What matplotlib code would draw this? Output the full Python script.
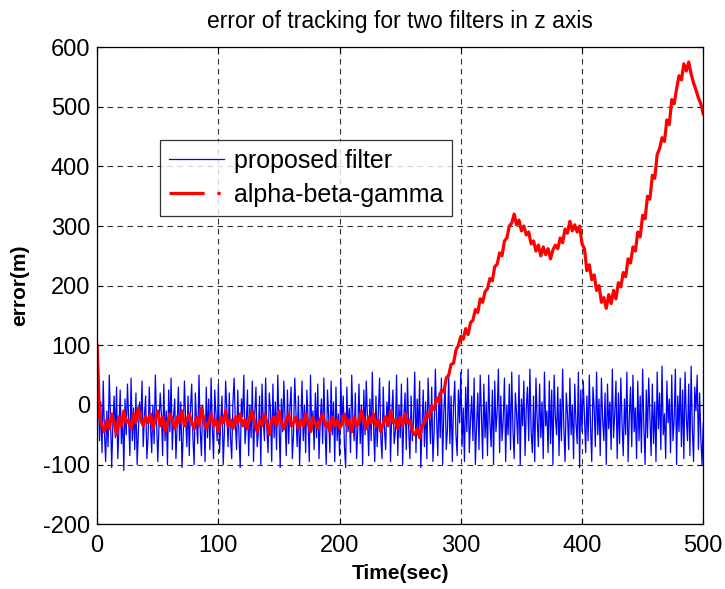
import numpy as np
import matplotlib
matplotlib.use("Agg")
import matplotlib.pyplot as plt
from matplotlib.lines import Line2D

plt.rcParams["font.family"] = ["Liberation Sans", "DejaVu Sans"]
plt.rcParams["axes.unicode_minus"] = False

# proposed filter error, one sample per second (t = 0..500)
proposed_err = [
    -35, 20, -60, 5, -80, 40, -45, -95, -10, -70, 50, -20, -105, -30, 15, -55, 30, -90, -40, 25,
    -65, -15, -110, 10, -50, 35, -25, -85, 45, -60, -5, -75, 20, -100, -45, 5, -30, 40, -70, -20,
    15, -90, -55, 30, -35, -80, 0, -65, 50, -25, -95, -40, 20, -15, -85, 35, -60, -10, -100, 25,
    -45, 45, -75, -20, 10, -90, -35, 30, -60, 5, -105, -50, 40, -25, -70, 15, -85, -5, 35, -55,
    -100, 20, -30, -65, 50, -40, -85, 0, -20, -95, 30, -55, 10, -75, 45, -35, -90, 25, -15, -60,
    35, -80, -25, 15, -100, -45, 40, -10, -70, 20, -55, -90, 5, 45, -30, -75, 25, -50, -105, 10,
    -20, 50, -65, -35, 25, -85, 0, -55, 40, -95, -15, 30, -70, -45, 15, -100, 35, -25, -60, 45,
    -40, -80, 20, -10, -95, 35, -55, 5, -75, 50, -30, -105, 10, -45, 40, -20, -85, 25, -65, -5,
    30, -90, -50, 45, -15, -70, 15, -100, -35, 40, -60, 0, -80, 25, -25, -95, 50, -45, -10, -75,
    20, -55, 35, -90, -30, 10, -65, 45, -40, -100, 25, -20, -80, 40, -50, 5, -95, 30, -60, -15,
    -85, 45, -35, 15, -70, -105, 30, -45, -5, -80, 50, -25, -60, 20, -90, -40, 35, -65, 0, -100,
    25, -50, 40, -20, -85, 10, -60, 55, -35, -95, 15, -70, -10, 45, -55, -90, 30, -40, -75, 5,
    -30, 40, -95, -15, 25, -65, -45, 50, -85, 0, -55, 35, -100, -20, 20, -75, 45, -40, -90, 15,
    -60, -25, 55, -80, 10, -50, 40, -105, -35, 25, -70, 5, -90, 45, -15, -65, 30, -95, -45, 60,
    -20, -85, 20, -55, 45, -100, -10, 35, -75, -40, 50, -65, 15, -95, 0, 40, -50, -85, 25, -30,
    55, -70, -5, -95, 30, -45, 60, -80, -25, 15, -60, 45, -100, -35, 20, -75, 50, -15, -90, 35,
    -55, 5, -85, 50, -30, -70, 25, -100, 40, -45, -10, 60, -80, 15, -60, -25, 45, -95, 0, -50,
    35, -75, 55, -40, -90, 20, -15, -65, 50, -100, 10, -35, 40, -85, -5, 30, -60, 60, -45, -80,
    15, -95, 45, -25, -70, 35, -55, 5, -90, 55, -35, -10, -80, 40, -65, 25, -100, 50, -20, -50,
    30, -85, 10, -60, 60, -40, -95, 20, -15, -75, 45, -50, 0, -90, 35, -30, -65, 55, -105, 25,
    -45, 40, -20, -80, 15, -60, 50, -35, -95, 30, -5, -70, 55, -50, 10, -85, 45, -25, -60, 20,
    -100, 35, -40, 5, -75, 60, -55, -15, 40, -90, 20, -65, 45, -30, -85, 10, -50, 55, -95, -20,
    30, -70, 50, -45, -5, -90, 40, -60, 15, -80, 60, -35, -100, 25, -55, 45, -20, -85, 35, -65,
    5, -95, 55, -40, 20, -75, 65, -50, -15, -90, 40, -30, 10, -80, 50, -60, -25, 60, -100, 15,
    -45, 45, -70, 25, -90, 55, -20, -60, 35, -85, 65, -40, -95, 30, -10, 50, -75, 20, -55, -100,
    -30,
]
proposed_t = np.arange(len(proposed_err))

# alpha-beta-gamma error, one sample every 2 s (t = 0..500)
abg_err = [
    100,
    -20, -35, -45, -25, -40, -15, -30, -50, -20, -35, -10, -30, -25, -40, -15, -30, -5, -25, -35, -20,
    -30, -15, -40, -25, -10, -35, -20, -45, -30, -15, -25, -40, -20, -30, -10, -35, -25, -15, -30, -40,
    -20, -35, -5, -25, -40, -30, -15, -35, -25, -45, -20, -30, -10, -35, -25, -40, -20, -30, -15, -35,
    -25, -40, -20, -10, -30, -45, -25, -35, -15, -30, -50, -25, -20, -35, -10, -30, -40, -25, -15, -35,
    -30, -20, -40, -25, -35, -15, -30, -45, -20, -30, -40, -25, -15, -35, -30, -45, -20, -35, -25, -40,
    -30, -15, -35, -25, -45, -20, -35, -30, -10, -25, -40, -20, -30, -15, -35, -25, -45, -30, -20, -35,
    -10, -30, -25, -40, -20, -35, -15, -30, -25, -45, -50, -40, -55, -35,
    -30, -15, -20, -2, -8, 12, 5, 25, 22, 45, 50, 68, 70, 92, 100, 115,
    110, 128, 118, 138, 142, 160, 155, 178, 172, 190,
    195, 212, 208, 232, 236, 255, 250, 275, 280, 300,
    305, 320, 302, 310, 292, 300, 285, 290, 270, 275,
    258, 268, 250, 265, 252, 262, 245, 260, 268, 262,
    280, 272, 295, 288, 308, 292, 302, 290, 300, 270,
    262, 225, 235, 210, 218, 192, 200, 172, 180, 162,
    185, 170, 192, 178, 205, 198, 222, 215, 245, 238,
    265, 258, 290, 282, 318, 312, 350, 345, 385, 380,
    420, 430, 448, 442, 478, 470, 512, 505, 530, 552,
    545, 572, 560, 575, 555, 540, 528, 515, 505, 488,
]
abg_t = np.arange(len(abg_err)) * 2

x_ticks = [0, 100, 200, 300, 400, 500]
y_ticks = [-200, -100, 0, 100, 200, 300, 400, 500, 600]

fig = plt.figure(figsize=(7.25, 5.89), dpi=100)
ax = fig.add_axes([0.134, 0.110, 0.836, 0.810])

ax.plot(proposed_t, proposed_err, color="#0000ff", lw=0.9)
ax.plot(abg_t, abg_err, color="#ff0000", lw=2.3)

ax.set_xlim(0, 500)
ax.set_ylim(-200, 600)
ax.set_xticks(x_ticks)
ax.set_yticks(y_ticks)
ax.tick_params(direction="in", length=4, top=True, right=True, labelsize=17)
ax.tick_params(axis="x", pad=8)
ax.tick_params(axis="y", pad=5)
ax.grid(True, color="#333333", linestyle=(0, (5, 4)), lw=0.8)
ax.set_axisbelow(True)
for s in ax.spines.values():
    s.set_linewidth(0.9)

ax.set_title("error of tracking for two filters in z axis", fontsize=16.5, pad=14)
ax.set_xlabel("Time(sec)", fontsize=15, fontweight="bold", labelpad=5)
ax.set_ylabel("error(m)", fontsize=15, fontweight="bold")
ax.yaxis.set_label_coords(-0.112, 0.5)

handles = [
    Line2D([], [], color="#0000ff", lw=0.9),
    Line2D([], [], color="#ff0000", lw=2.3, linestyle=(0, (11, 4, 1, 10))),
]
leg = ax.legend(handles, ["proposed filter", "alpha-beta-gamma"], loc="upper left",
                bbox_to_anchor=(0.104, 0.805), fontsize=18, frameon=True, fancybox=False,
                edgecolor="black", handlelength=2.2, handletextpad=0.4,
                borderpad=0.35, labelspacing=0.4, borderaxespad=0)
leg.get_frame().set_linewidth(0.9)

fig.savefig("out.png", dpi=100)
